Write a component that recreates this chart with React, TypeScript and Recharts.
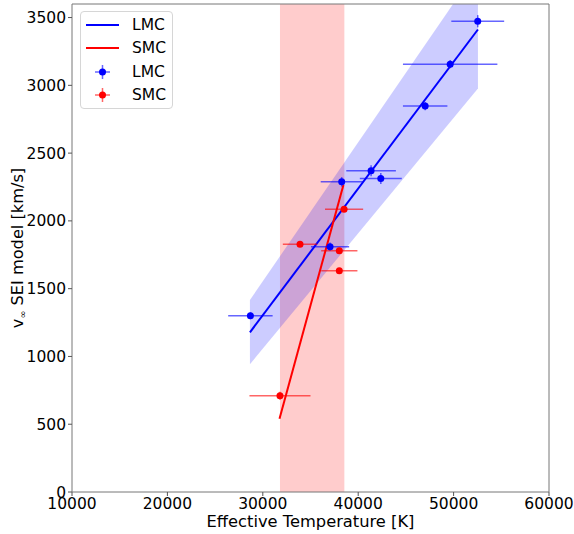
import React from 'react'
import {
  ComposedChart,
  XAxis,
  YAxis,
  Line,
  Area,
  Scatter,
  ErrorBar,
  ReferenceArea,
  Label,
} from 'recharts'

// measured stars
const lmcTemp = [28700, 37050, 38270, 41350, 42370, 47020, 49640, 52530]
const lmcVinf = [1300, 1810, 2288, 2370, 2313, 2847, 3156, 3473]
const lmcTempErr = [2330, 2000, 2200, 2600, 2200, 2330, 4950, 2770]
const lmcVinfErr = [25, 30, 35, 40, 40, 30, 30, 45]

const smcTemp = [31800, 33900, 38020, 38020, 38520]
const smcVinf = [710, 1827, 1632, 1780, 2085]
const smcTempErr = [3200, 1800, 1900, 1900, 2000]
const smcVinfErr = [30, 20, 20, 20, 20]

// fits
const lmcFitTemp = [28650, 52550]
const lmcFitV = [1178, 3412]
const lmcBandLow = [942, 2977]
const lmcBandHigh = [1416, 3867]

const smcFitTemp = [31750, 38450]
const smcFitV = [540, 2265]
const smcRange = [31800, 38550]

const xTicks = [10000, 20000, 30000, 40000, 50000, 60000]
const yTicks = [0, 500, 1000, 1500, 2000, 2500, 3000, 3500]

const BLUE = '#0000ff'
const RED = '#ff0000'
const FONT = "'DejaVu Sans', sans-serif"

const lmcPoints = lmcTemp.map((t, i) => ({
  x: t,
  y: lmcVinf[i],
  xErr: lmcTempErr[i],
  yErr: lmcVinfErr[i],
}))
const smcPoints = smcTemp.map((t, i) => ({
  x: t,
  y: smcVinf[i],
  xErr: smcTempErr[i],
  yErr: smcVinfErr[i],
}))
const lmcFit = lmcFitTemp.map((t, i) => ({
  x: t,
  y: lmcFitV[i],
  band: [lmcBandLow[i], lmcBandHigh[i]],
}))
const smcFit = smcFitTemp.map((t, i) => ({ x: t, y: smcFitV[i] }))

const dot = (color: string) => (props: any) =>
  <circle cx={props.cx} cy={props.cy} r={3.5} fill={color} />

function LegendBox() {
  const rows = [
    { kind: 'line', color: BLUE, label: 'LMC' },
    { kind: 'line', color: RED, label: 'SMC' },
    { kind: 'point', color: BLUE, label: 'LMC' },
    { kind: 'point', color: RED, label: 'SMC' },
  ]
  return (
    <div
      style={{
        position: 'absolute',
        left: 80,
        top: 11,
        width: 93,
        height: 98,
        boxSizing: 'border-box',
        border: '1px solid #d6d6d6',
        borderRadius: 4,
        background: 'rgba(255,255,255,0.8)',
        paddingTop: 1,
        fontFamily: FONT,
        fontSize: 15.5,
      }}
    >
      {rows.map((r, i) => (
        <div
          key={i}
          style={{ display: 'flex', alignItems: 'center', height: 23.5 }}
        >
          <svg width={34} height={20} style={{ marginLeft: 5 }}>
            {r.kind === 'line' ? (
              <line x1={0} y1={10} x2={33} y2={10} stroke={r.color} strokeWidth={2} />
            ) : (
              <g>
                <line x1={9} y1={10} x2={24} y2={10} stroke={r.color} strokeOpacity={0.6} strokeWidth={1.5} />
                <line x1={16.5} y1={3} x2={16.5} y2={17} stroke={r.color} strokeOpacity={0.6} strokeWidth={1.5} />
                <circle cx={16.5} cy={10} r={3.5} fill={r.color} />
              </g>
            )}
          </svg>
          <span style={{ marginLeft: 12 }}>{r.label}</span>
        </div>
      ))}
    </div>
  )
}

export default function App() {
  return (
    <div style={{ position: 'absolute', left: 0, top: 0, width: 574, height: 534, fontFamily: FONT, background: '#fff' }}>
      <ComposedChart
        width={574}
        height={534}
        margin={{ top: 4, right: 25, left: 0, bottom: 0 }}
      >
        <XAxis
          dataKey="x"
          type="number"
          domain={[10000, 60000]}
          ticks={xTicks}
          allowDataOverflow
          height={42}
          axisLine={false}
          tickLine={{ stroke: '#555' }}
          tickSize={4}
          tick={{ fill: '#000', fontSize: 15.5 }}
        >
          <Label
            content={(p: any) => (
              <text
                x={p.viewBox.x + p.viewBox.width / 2}
                y={527}
                textAnchor="middle"
                fontSize={16.3}
                fill="#000"
              >
                Effective Temperature [K]
              </text>
            )}
          />
        </XAxis>
        <YAxis
          dataKey="y"
          type="number"
          domain={[0, 3600]}
          ticks={yTicks}
          allowDataOverflow
          width={72}
          axisLine={false}
          tickLine={{ stroke: '#555' }}
          tickSize={4}
          tick={{ fill: '#000', fontSize: 15.5 }}
        >
          <Label
            content={() => (
              <text
                x={23}
                y={248}
                transform="rotate(-90, 23, 248)"
                textAnchor="middle"
                fontSize={16.2}
                fill="#000"
              >
                v
                <tspan dy={3} fontSize={9.5}>∞</tspan>
                <tspan dy={-3}> SEI model [km/s]</tspan>
              </text>
            )}
          />
        </YAxis>
        <ReferenceArea
          x1={smcRange[0]}
          x2={smcRange[1]}
          fill={RED}
          fillOpacity={0.2}
          stroke="none"
        />
        <Area
          data={lmcFit}
          dataKey="band"
          type="linear"
          fill={BLUE}
          fillOpacity={0.2}
          stroke="none"
          isAnimationActive={false}
        />
        <Line
          data={lmcFit}
          dataKey="y"
          type="linear"
          stroke={BLUE}
          strokeWidth={2}
          dot={false}
          activeDot={false}
          isAnimationActive={false}
        />
        <Line
          data={smcFit}
          dataKey="y"
          type="linear"
          stroke={RED}
          strokeWidth={2}
          dot={false}
          activeDot={false}
          isAnimationActive={false}
        />
        <Scatter data={lmcPoints} dataKey="y" shape={dot(BLUE)} isAnimationActive={false}>
          <ErrorBar dataKey="xErr" direction="x" width={0} stroke="rgba(0,0,255,0.6)" strokeWidth={1.5} isAnimationActive={false} />
          <ErrorBar dataKey="yErr" direction="y" width={0} stroke="rgba(0,0,255,0.6)" strokeWidth={1.5} isAnimationActive={false} />
        </Scatter>
        <Scatter data={smcPoints} dataKey="y" shape={dot(RED)} isAnimationActive={false}>
          <ErrorBar dataKey="xErr" direction="x" width={0} stroke="rgba(255,0,0,0.6)" strokeWidth={1.5} isAnimationActive={false} />
          <ErrorBar dataKey="yErr" direction="y" width={0} stroke="rgba(255,0,0,0.6)" strokeWidth={1.5} isAnimationActive={false} />
        </Scatter>
        <ReferenceArea
          x1={10000}
          x2={60000}
          y1={0}
          y2={3600}
          fill="none"
          fillOpacity={0}
          stroke="#777"
          strokeWidth={1}
        />
      </ComposedChart>
      <LegendBox />
    </div>
  )
}
